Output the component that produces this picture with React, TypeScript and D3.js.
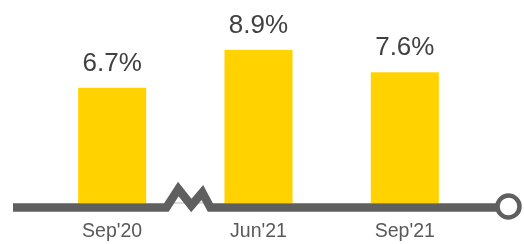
import React, { useRef, useEffect } from 'react';
import * as d3 from 'd3';

const categories = ["Sep'20", "Jun'21", "Sep'21"];
const values = [6.7, 8.9, 7.6];
const valueLabels = ['6.7%', '8.9%', '7.6%'];

const width = 524;
const height = 244;

export default function App() {
  const svgRef = useRef<SVGSVGElement | null>(null);

  useEffect(() => {
    const svg = d3.select(svgRef.current);
    svg.selectAll('*').remove();

    const x = d3.scaleBand<string>()
      .domain(categories)
      .range([5, 512])
      .paddingInner(0.535)
      .paddingOuter(0.5);

    const y = d3.scaleLinear()
      .domain([0, 10])
      .range([203, 31]);

    const axisY = 207.5;
    const axisColor = '#5f5f5f';

    // bars
    svg.append('g')
      .selectAll('rect')
      .data(values)
      .join('rect')
      .attr('x', (d, i) => x(categories[i])!)
      .attr('y', d => y(d))
      .attr('width', x.bandwidth())
      .attr('height', d => y(0) - y(d))
      .attr('fill', '#ffd200');

    // value labels
    svg.append('g')
      .selectAll('text')
      .data(values)
      .join('text')
      .attr('x', (d, i) => x(categories[i])! + x.bandwidth() / 2)
      .attr('y', d => y(d) - 17)
      .attr('text-anchor', 'middle')
      .attr('font-family', 'Liberation Sans, Arial, sans-serif')
      .attr('font-size', 26)
      .attr('fill', '#404040')
      .text((d, i) => valueLabels[i]);

    // axis line with break
    const bx = (x(categories[0])! + x.bandwidth() + x(categories[1])!) / 2 + 3;
    const axisPath = d3.path();
    axisPath.moveTo(13, axisY);
    axisPath.lineTo(bx - 22, axisY);
    axisPath.lineTo(bx - 10, axisY - 18.5);
    axisPath.lineTo(bx + 3, axisY - 2);
    axisPath.lineTo(bx + 14, axisY - 15);
    axisPath.lineTo(bx + 22, axisY);
    axisPath.lineTo(497, axisY);

    svg.append('line')
      .attr('x1', bx - 21)
      .attr('x2', bx + 21)
      .attr('y1', axisY - 4.5)
      .attr('y2', axisY - 4.5)
      .attr('stroke', '#d0d0d0')
      .attr('stroke-width', 1.5);

    svg.append('path')
      .attr('d', axisPath.toString())
      .attr('fill', 'none')
      .attr('stroke', axisColor)
      .attr('stroke-width', 8.5)
      .attr('stroke-linejoin', 'miter');

    svg.append('circle')
      .attr('cx', 508.5)
      .attr('cy', 206.5)
      .attr('r', 11)
      .attr('fill', '#fff')
      .attr('stroke', axisColor)
      .attr('stroke-width', 4.5);

    // category labels
    svg.append('g')
      .selectAll('text')
      .data(categories)
      .join('text')
      .attr('x', d => x(d)! + x.bandwidth() / 2)
      .attr('y', 237)
      .attr('text-anchor', 'middle')
      .attr('font-family', 'Liberation Sans, Arial, sans-serif')
      .attr('font-size', 19.5)
      .attr('fill', '#595959')
      .text(d => d);
  }, []);

  return (
    <div style={{ position: 'fixed', left: 0, top: 0 }}>
      <svg ref={svgRef} width={width} height={height} style={{ display: 'block' }}></svg>
    </div>
  );
}
